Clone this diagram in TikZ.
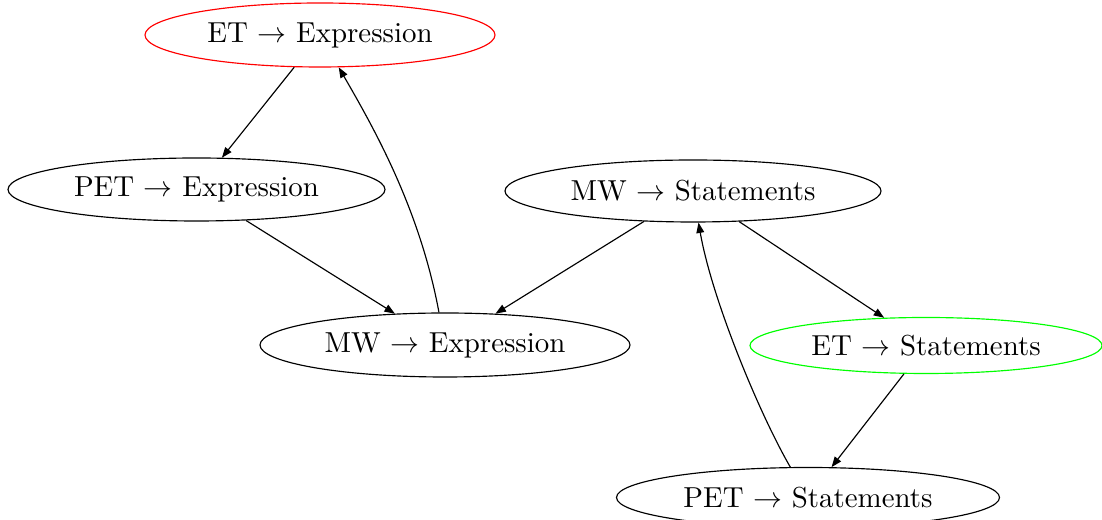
\documentclass[tikz,border=0pt]{standalone}
\usetikzlibrary{shapes.geometric,arrows.meta}
\definecolor{gvred}{RGB}{255,0,0}
\definecolor{gvgreen}{RGB}{0,255,0}
\begin{document}
\begin{tikzpicture}[x=0.346pt,y=-0.346pt,
  st/.style={ellipse,draw,line width=0.4pt,inner sep=0pt,font=\normalsize},
  edge/.style={-{Triangle[length=3.6pt,width=2.7pt]},line width=0.4pt}]
\useasboundingbox (0,0) rectangle (1102,520);
\node[st,draw=gvred,minimum width=350*0.346pt,minimum height=64*0.346pt] (ete) at (320,35) {ET $\rightarrow$ Expression};
\node[st,minimum width=377*0.346pt,minimum height=63*0.346pt] (pete) at (196.5,189.5) {PET $\rightarrow$ Expression};
\node[st,minimum width=376*0.346pt,minimum height=62*0.346pt] (mws) at (693,191) {MW $\rightarrow$ Statements};
\node[st,minimum width=370*0.346pt,minimum height=64*0.346pt] (mwe) at (445,345) {MW $\rightarrow$ Expression};
\node[st,draw=gvgreen,minimum width=352*0.346pt,minimum height=56*0.346pt] (ets) at (926,345.5) {ET $\rightarrow$ Statements};
\node[st,minimum width=383*0.346pt,minimum height=60*0.346pt] (pets) at (808,497.5) {PET $\rightarrow$ Statements};
\draw[edge] (ete) -- (pete);
\draw[edge] (pete) -- (mwe);
\draw[edge] (mwe) .. controls (420,210) and (375,130) .. (ete);
\draw[edge] (mws) -- (mwe);
\draw[edge] (mws) -- (ets);
\draw[edge] (ets) -- (pets);
\draw[edge] (pets) .. controls (760,415) and (712,300) .. (mws);
\end{tikzpicture}
\end{document}
